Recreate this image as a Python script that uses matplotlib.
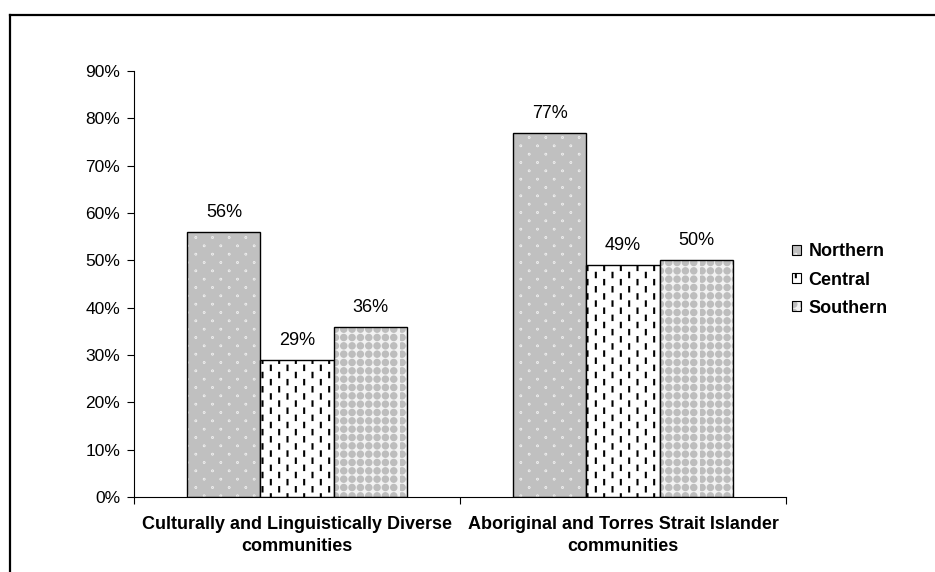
#!/usr/bin/env python3
"""
Share of respondents by region for two community groups,
drawn as grouped bars with textured fills.
"""

import numpy as np
import matplotlib
matplotlib.use('Agg')
import matplotlib.pyplot as plt
import matplotlib.hatch as mhatch
from matplotlib.path import Path
from matplotlib.patches import Patch
from matplotlib.lines import Line2D
from matplotlib.legend_handler import HandlerTuple
from matplotlib.ticker import PercentFormatter

communities = ['Culturally and Linguistically Diverse\ncommunities',
               'Aboriginal and Torres Strait Islander\ncommunities']
regions = ['Northern', 'Central', 'Southern']
northern = [56, 77]
central = [29, 49]
southern = [36, 50]
y_ticks = list(range(0, 100, 10))


class MarkGrid(mhatch.HatchPatternBase):
    """Repeat one small path over a (optionally staggered) grid of the hatch tile."""
    char = ''
    cols, rows = 1, 1
    stagger = True

    def __init__(self, hatch, density):
        self.centres = []
        if hatch.count(self.char):
            for r in range(self.rows):
                shift = 0.5 / self.cols if (self.stagger and r % 2) else 0.0
                for c in range(self.cols):
                    self.centres.append(((c + 0.25) / self.cols + shift,
                                         (r + 0.5) / self.rows))
        self.shape = self.make_shape()
        self.num_vertices = len(self.centres) * len(self.shape.vertices)

    def make_shape(self):
        raise NotImplementedError

    def set_vertices_and_codes(self, vertices, codes):
        k = len(self.shape.vertices)
        for i, (x, y) in enumerate(self.centres):
            vertices[i * k:(i + 1) * k] = self.shape.vertices + (x, y)
            codes[i * k:(i + 1) * k] = self.shape.codes


class Dots(MarkGrid):
    char = '.'
    cols, rows = 6, 12

    def make_shape(self):
        c = Path.unit_circle()
        return Path(c.vertices * 0.003, c.codes)


class Dashes(MarkGrid):
    char = '|'
    cols, rows = 6, 14

    def make_shape(self):
        return Path([[0, -0.022], [0, 0.022]], [Path.MOVETO, Path.LINETO])


class Spheres(MarkGrid):
    char = 'O'
    cols, rows = 12, 12
    stagger = False

    def make_shape(self):
        c = Path.unit_circle()
        return Path(c.vertices * 0.027, c.codes)


# swap the stock '.', '|' and 'O' hatches for the textured versions
mhatch._hatch_types = [h for h in mhatch._hatch_types
                       if h not in (mhatch.VerticalHatch,
                                    mhatch.SmallFilledCircles,
                                    mhatch.LargeCircles)]
mhatch._hatch_types += [Dots, Dashes, Spheres]

plt.rcParams['font.family'] = ['Liberation Sans', 'DejaVu Sans']
plt.rcParams['hatch.linewidth'] = 1.5

# face colour, texture colour, hatch
styles = {
    'Northern': ('#c0c0c0', 'white', '.'),
    'Central': ('white', 'black', '|'),
    'Southern': ('#f2f2f2', '#bdbdbd', 'O'),
}

fig = plt.figure(figsize=(9.35, 5.72), dpi=100)
ax = fig.add_axes([134 / 935, 1 - 497 / 572, 652 / 935, 426 / 572])

x = np.arange(len(communities))
width = 0.224
handles = []
for i, (name, values) in enumerate(zip(regions, [northern, central, southern])):
    face, ink, hatch = styles[name]
    pos = x + (i - 1) * width
    ax.bar(pos, values, width, color=face, edgecolor=ink, hatch=hatch, linewidth=0)
    ax.bar(pos, values, width, fill=False, edgecolor='black', linewidth=1.0)
    for xp, v in zip(pos, values):
        ax.annotate(f'{v}%', (xp, v), xytext=(0, 14), textcoords='offset points',
                    ha='center', va='center', fontsize=13)
    handles.append((Patch(facecolor=face, edgecolor=ink, hatch=hatch, linewidth=0),
                    Patch(fill=False, edgecolor='black', linewidth=0.8)))

ax.set_xlim(-0.5, len(communities) - 0.5)
ax.set_ylim(0, 90)
ax.set_yticks(y_ticks)
ax.yaxis.set_major_formatter(PercentFormatter(decimals=0))
ax.tick_params(axis='y', direction='out', length=5, width=0.8, labelsize=12.5, pad=5)

# tick marks sit between the groups, labels under each group
ax.set_xticks(np.arange(len(communities) + 1) - 0.5)
ax.set_xticklabels([])
ax.tick_params(axis='x', which='major', direction='out', length=5, width=0.8)
ax.set_xticks(x, minor=True)
ax.set_xticklabels(communities, minor=True, fontsize=13, fontweight='bold',
                   linespacing=1.35)
ax.tick_params(axis='x', which='minor', length=0, pad=14)

for side in ('top', 'right'):
    ax.spines[side].set_visible(False)
for side in ('left', 'bottom'):
    ax.spines[side].set_linewidth(0.8)

fig.legend(handles, regions, loc='center left',
           bbox_to_anchor=(792 / 935, 1 - 280 / 572), bbox_transform=fig.transFigure,
           frameon=False, borderpad=0, borderaxespad=0,
           handler_map={tuple: HandlerTuple(ndivide=1)},
           handlelength=0.5, handleheight=0.5, handletextpad=0.4,
           labelspacing=0.62, prop={'size': 13, 'weight': 'bold'})

# outer frame, left and top edges
fx = 9.5 / 935
fy = 1 - 15 / 572
fig.add_artist(Line2D([fx, fx], [0, fy], color='black', linewidth=1.6,
                      transform=fig.transFigure))
fig.add_artist(Line2D([fx, 1], [fy, fy], color='black', linewidth=1.6,
                      transform=fig.transFigure))

fig.savefig('out.png', dpi=100)
